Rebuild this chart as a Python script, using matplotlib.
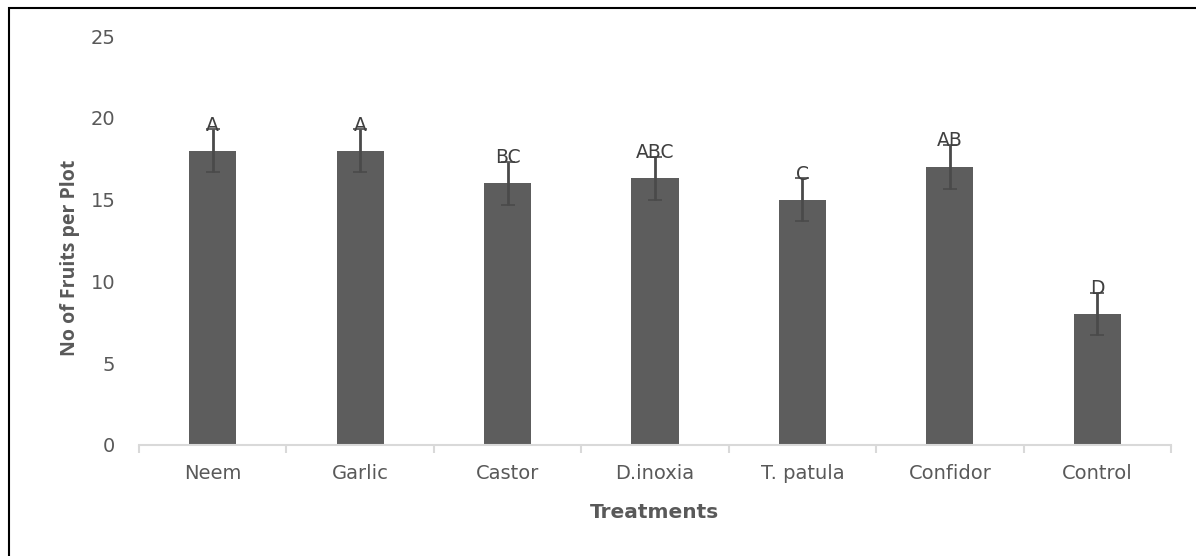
import matplotlib
matplotlib.use("Agg")
import matplotlib.pyplot as plt
from matplotlib.patches import Rectangle

treatments = ["Neem", "Garlic", "Castor", "D.inoxia", "T. patula", "Confidor", "Control"]
fruits = [18.0, 18.0, 16.0, 16.3, 15.0, 17.0, 8.0]
errors = [1.3, 1.3, 1.3, 1.3, 1.3, 1.35, 1.3]
letters = ["A", "A", "BC", "ABC", "C", "AB", "D"]
yticks = [0, 5, 10, 15, 20, 25]

plt.rcParams['font.family'] = ['DejaVu Sans']

W, H = 1196, 556
fig = plt.figure(figsize=(W / 100, H / 100), dpi=100)
ax = fig.add_axes([139 / W, 1 - 445 / H, (1171 - 139) / W, (445 - 36) / H])

x = list(range(len(treatments)))
ax.bar(x, fruits, width=0.32, color="#5d5d5d", zorder=2)
ax.errorbar(x, fruits, yerr=errors, fmt="none", ecolor="#4a4a4a", elinewidth=2,
            capsize=5, capthick=1.2, zorder=3)
for xi, m, e, lab in zip(x, fruits, errors, letters):
    ax.text(xi, m + e + 0.25, lab, ha="center", va="center", fontsize=13.5,
            color="#404040", zorder=4)

ax.set_xlim(-0.5, len(treatments) - 0.5)
ax.set_ylim(0, 25)
ax.set_yticks(yticks)
ax.set_yticklabels([str(t) for t in yticks])
ax.set_xticks(x)
ax.set_xticklabels(treatments)

# category boundary ticks (Excel style)
ax.set_xticks([i - 0.5 for i in range(len(treatments) + 1)], minor=True)
ax.tick_params(axis="x", which="major", length=0, pad=14, labelsize=14, labelcolor="#595959")
ax.tick_params(axis="x", which="minor", length=6, width=1.5, color="#d9d9d9")
ax.tick_params(axis="y", length=0, pad=17, labelsize=14, labelcolor="#595959")

for s in ["top", "right", "left"]:
    ax.spines[s].set_visible(False)
ax.spines["bottom"].set_color("#d9d9d9")
ax.spines["bottom"].set_linewidth(1.5)

ax.set_xlabel("Treatments", fontsize=14.5, fontweight="bold", color="#595959", labelpad=14)
ax.set_ylabel("No of Fruits per Plot", fontsize=14, fontweight="bold", color="#595959",
              family=["Open Sans", "DejaVu Sans"])
ax.yaxis.set_label_coords((80 - 139) / (1171 - 139), (445 - 258) / (445 - 36))

# outer border (top and left visible)
fig.patches.append(Rectangle((9 / W, -0.1), 1.2, 1.1 - 8 / H, transform=fig.transFigure,
                             fill=False, edgecolor="black", linewidth=1.5))

fig.savefig("out.png", dpi=100)
